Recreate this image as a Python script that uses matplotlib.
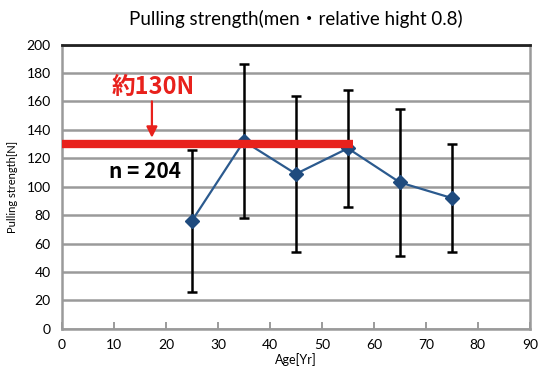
import matplotlib
matplotlib.use('Agg')
import matplotlib.pyplot as plt

ages = [25, 35, 45, 55, 65, 75]
means = [76, 132, 109, 127, 103, 92]
sds = [50, 54, 55, 41, 52, 38]

ref_value = 130
ref_end = 56
x_ticks = list(range(0, 100, 10))
y_ticks = list(range(0, 220, 20))

plt.rcParams['font.family'] = ['Lato', 'Noto Sans CJK JP', 'DejaVu Sans']

fig = plt.figure(figsize=(5.39, 3.81), dpi=100)
ax = fig.add_axes([0.115, 0.137, 0.868, 0.746])

ax.set_xlim(0, 90)
ax.set_ylim(0, 200)
ax.set_xticks(x_ticks)
ax.set_yticks(y_ticks)
ax.yaxis.grid(True, color='#9a9a9a', linewidth=1.8)
ax.set_axisbelow(True)
ax.tick_params(axis='x', direction='in', length=5, color='#8a8a8a', width=1.2,
               labelsize=10, pad=7)
ax.tick_params(axis='y', length=0, labelsize=10, pad=8)
for s in ['left', 'bottom', 'right']:
    ax.spines[s].set_color('#9a9a9a')
    ax.spines[s].set_linewidth(1.8)
ax.spines['top'].set_color('#222222')
ax.spines['top'].set_linewidth(2)

ax.errorbar(ages, means, yerr=sds, fmt='none', ecolor='black', elinewidth=1.8,
            capsize=3.5, capthick=1.8, zorder=3)
ax.plot(ages, means, color='#2b5a8e', linewidth=1.6, marker='D', markersize=7.5,
        markerfacecolor='#1f4b7e', markeredgecolor='#1f4b7e', zorder=4)

ax.plot([0, ref_end], [ref_value, ref_value], color='#e8211c', linewidth=6,
        solid_capstyle='butt', zorder=5)
ax.annotate('', xy=(17.3, ref_value + 2.5), xytext=(17.3, 162),
            arrowprops=dict(arrowstyle='-|>', color='#e8211c', lw=1.6,
                            mutation_scale=16), zorder=6)
ax.text(17.5, 170, '約130N', color='#e8211c', fontsize=17, fontweight='bold',
        ha='center', va='center', family=['Noto Sans CJK JP', 'DejaVu Sans'])
ax.text(16, 111, 'n = 204', color='black', fontsize=15, fontweight='bold',
        ha='center', va='center', family=['Noto Sans CJK JP', 'DejaVu Sans'])

ax.set_title('Pulling strength(men\u30fbrelative hight 0.8)', fontsize=13.5, pad=14)
ax.set_xlabel('Age[Yr]', fontsize=9, labelpad=2)
ax.set_ylabel('Pulling strength[N]', fontsize=8, labelpad=6)

fig.savefig('out.png', dpi=100)
